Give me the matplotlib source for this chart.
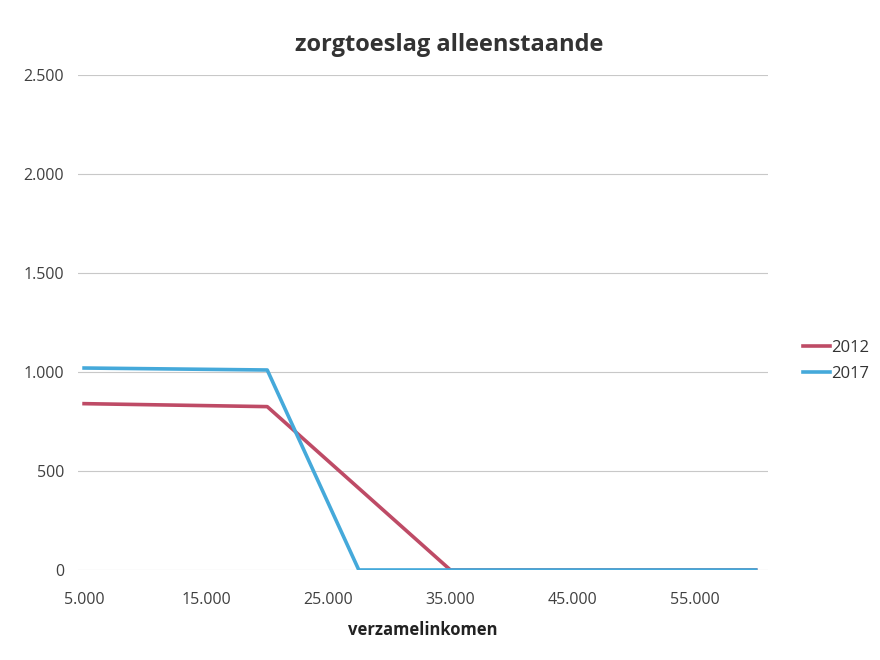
import matplotlib.pyplot as plt
from matplotlib.ticker import FuncFormatter

# verzamelinkomen (x) en zorgtoeslag (y)
inkomen_2012 = [5000, 20000, 35000, 60000]
toeslag_2012 = [840, 825, 0, 0]
inkomen_2017 = [5000, 20000, 27500, 60000]
toeslag_2017 = [1020, 1010, 0, 0]

x_ticks = [5000, 15000, 25000, 35000, 45000, 55000]
y_ticks = [0, 500, 1000, 1500, 2000, 2500]


def nl_thousands(v, pos=None):
    return f"{int(v):,}".replace(",", ".")


def main():
    plt.rcParams["font.family"] = ["Open Sans", "DejaVu Sans"]
    fig = plt.figure(figsize=(8.8, 6.6), dpi=100)
    ax = fig.add_axes([0.0886, 0.1364, 0.784, 0.75])

    ax.plot(inkomen_2012, toeslag_2012, color="#BE4B66", linewidth=2.6, label="2012")
    ax.plot(inkomen_2017, toeslag_2017, color="#45A9DA", linewidth=2.6, label="2017")

    ax.set_xlim(4500, 61000)
    ax.set_ylim(0, 2500)
    ax.set_xticks(x_ticks)
    ax.set_yticks(y_ticks)
    ax.xaxis.set_major_formatter(FuncFormatter(nl_thousands))
    ax.yaxis.set_major_formatter(FuncFormatter(nl_thousands))
    ax.tick_params(axis="both", length=0, labelsize=11.5, labelcolor="#404040")
    ax.tick_params(axis="x", pad=16)
    ax.tick_params(axis="y", pad=10)
    ax.grid(True, axis="y", color="#C8C8C8", linewidth=0.8)
    ax.set_axisbelow(True)
    for s in ax.spines.values():
        s.set_visible(False)

    fig.text(0.51, 0.932, "zorgtoeslag alleenstaande", ha="center", va="center",
             fontsize=17, fontweight="bold", color="#333333")
    fig.text(0.48, 0.045, "verzamelinkomen", ha="center", va="center",
             fontsize=12, fontweight="bold", color="#222222")

    ax.legend(loc="upper left", bbox_to_anchor=(0.905, 0.495), bbox_transform=fig.transFigure,
              frameon=False, fontsize=12, handlelength=1.6, handletextpad=0.1,
              labelspacing=0.6, borderaxespad=0, labelcolor="#333333")

    fig.savefig("out.png", dpi=100)


if __name__ == "__main__":
    main()
